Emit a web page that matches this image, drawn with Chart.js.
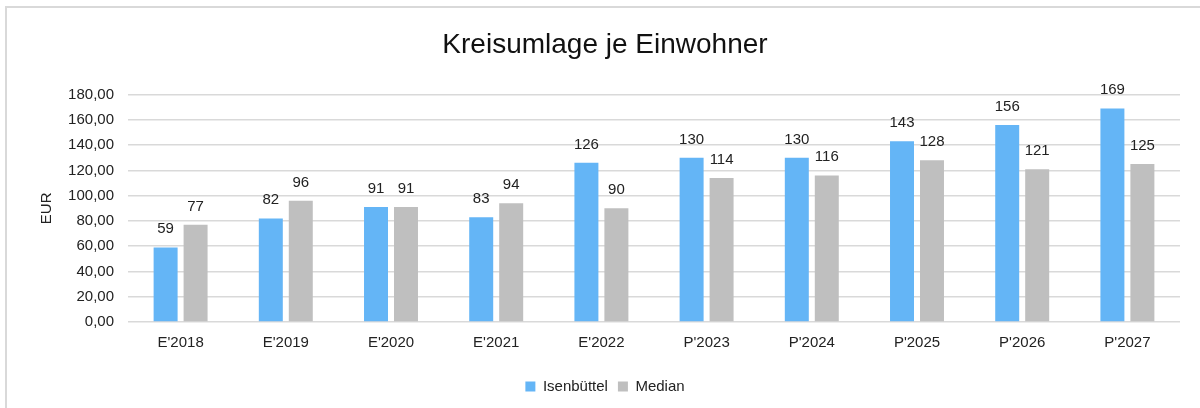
<!DOCTYPE html>
<html>
<head>
<meta charset="utf-8">
<script src="https://cdn.jsdelivr.net/npm/chart.js@4.4.1/dist/chart.umd.min.js"></script>
<style>
    html, body { margin: 0; padding: 0; background: #fff; overflow: hidden; }
    #rahmen {
        position: absolute; left: 5px; top: 6px; width: 1300px; height: 500px;
        border-left: 2px solid #d9d9d9; border-top: 2px solid #d9d9d9;
    }
    #umlageChart { position: absolute; left: 0; top: 0; }
</style>
</head>
<body>
<div id="rahmen"></div>
<canvas id="umlageChart" width="1200" height="408"></canvas>
<script>
const JAHRE = ["E'2018", "E'2019", "E'2020", "E'2021", "E'2022", "P'2023", "P'2024", "P'2025", "P'2026", "P'2027"];
const ISENBUETTEL = [59, 82, 91, 83, 126, 130, 130, 143, 156, 169];
const MEDIAN = [77, 96, 91, 94, 90, 114, 116, 128, 121, 125];
const Y_TICKS = [0, 20, 40, 60, 80, 100, 120, 140, 160, 180];

const SCHRIFT = "'Liberation Sans', Arial, sans-serif";

// Werte über den Balken schreiben
const wertLabels = {
    id: "wertLabels",
    afterDatasetsDraw(chart) {
        const ctx = chart.ctx;
        ctx.save();
        ctx.font = "15px " + SCHRIFT;
        ctx.fillStyle = "#222";
        ctx.textAlign = "center";
        ctx.textBaseline = "alphabetic";
        chart.data.datasets.forEach(function (ds, i) {
            chart.getDatasetMeta(i).data.forEach(function (bar, j) {
                ctx.fillText(String(ds.data[j]), bar.x, bar.y - 14);
            });
        });
        ctx.restore();
    },
};

const ctx = document.getElementById("umlageChart").getContext("2d");
new Chart(ctx, {
    type: "bar",
    data: {
        labels: JAHRE,
        datasets: [
            {
                label: "Isenbüttel",
                data: ISENBUETTEL,
                backgroundColor: "#64b5f6",
                barPercentage: 0.8,
                categoryPercentage: 0.57,
            },
            {
                label: "Median",
                data: MEDIAN,
                backgroundColor: "#bfbfbf",
                barPercentage: 0.8,
                categoryPercentage: 0.57,
            },
        ],
    },
    options: {
        responsive: false,
        animation: false,
        layout: { padding: { left: 30, right: 20, top: 0, bottom: 4 } },
        plugins: {
            tooltip: { enabled: false },
            title: {
                display: true,
                text: "Kreisumlage je Einwohner",
                color: "#111",
                font: { family: SCHRIFT, size: 28, weight: "normal", lineHeight: 1.2 },
                padding: { top: 28, bottom: 33 },
            },
            legend: {
                position: "bottom",
                labels: {
                    color: "#222",
                    font: { family: SCHRIFT, size: 15 },
                    boxWidth: 10,
                    boxHeight: 10,
                    padding: 10,
                },
            },
        },
        scales: {
            x: {
                grid: { display: false },
                border: { display: false },
                ticks: {
                    color: "#222",
                    font: { family: SCHRIFT, size: 15 },
                    padding: 4,
                    maxRotation: 0,
                },
                afterFit(scale) {
                    scale.height = 47;
                },
            },
            y: {
                min: 0,
                max: 180,
                afterBuildTicks(scale) {
                    scale.ticks = Y_TICKS.map((v) => ({ value: v }));
                },
                grid: { color: "#d9d9d9", lineWidth: 1.5, drawTicks: false },
                border: { display: false },
                ticks: {
                    color: "#222",
                    font: { family: SCHRIFT, size: 15 },
                    padding: 14,
                    callback: (v) => v.toFixed(2).replace(".", ","),
                },
                title: {
                    display: true,
                    text: "EUR",
                    color: "#222",
                    font: { family: SCHRIFT, size: 15 },
                    padding: { top: 8, bottom: 0 },
                },
                afterFit(scale) {
                    scale.width = 98;
                },
            },
        },
    },
    plugins: [wertLabels],
});
</script>
</body>
</html>
